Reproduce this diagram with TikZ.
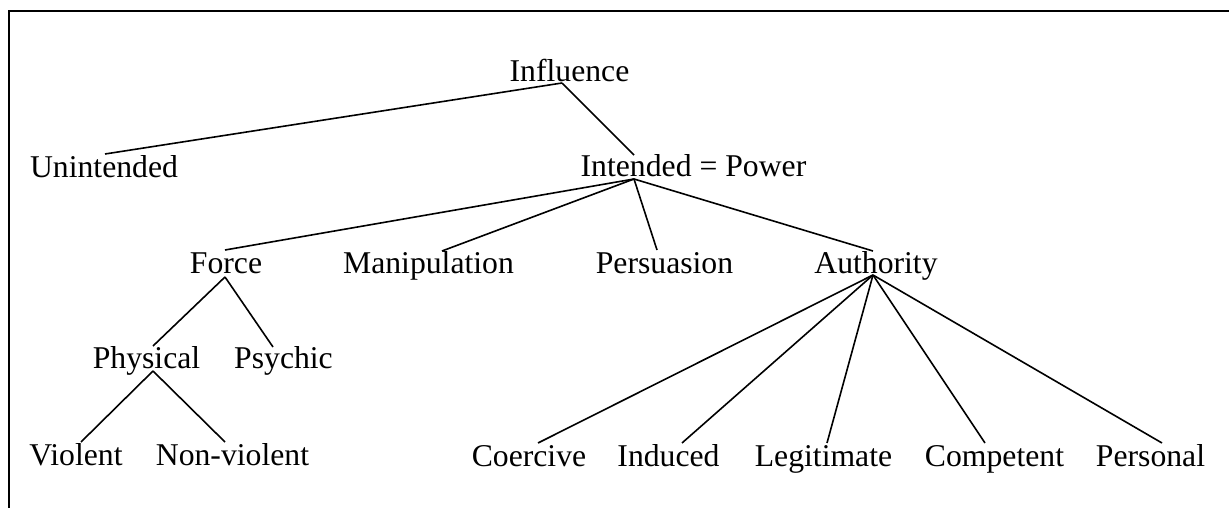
\documentclass[tikz,border=0pt]{standalone}
\usepackage{fontspec}
\setmainfont{Liberation Serif}
\begin{document}
\begin{tikzpicture}[x=1pt,y=-1pt,
  lbl/.style={inner sep=0pt,outer sep=0pt,anchor=base,font=\fontsize{31.7}{38}\selectfont},
  edge/.style={line width=1.6pt},
  frame/.style={line width=2.5pt,line join=miter}]
\useasboundingbox (0,0) rectangle (1229,508);
\coordinate (fb) at (9,508);
\coordinate (fc) at (9,11);
\coordinate (fr) at (1229,11);
\draw[frame] (fb) -- (fc) -- (fr);

\node[lbl] (inf) at (569.5,82) {Influence};
\node[lbl] (unint) at (104,177) {Unintended};
\node[lbl] (intd) at (693.5,176) {Intended = Power};
\node[lbl] (force) at (226,273) {Force};
\node[lbl] (manip) at (428.5,273) {Manipulation};
\node[lbl] (pers) at (664.5,273) {Persuasion};
\node[lbl] (auth) at (876,273) {Authority};
\node[lbl] (phys) at (146.5,368) {Physical};
\node[lbl] (psych) at (283.5,368) {Psychic};
\node[lbl] (viol) at (76,465) {Violent};
\node[lbl] (nonv) at (232.5,465) {Non-violent};
\node[lbl] (coer) at (529,466) {Coercive};
\node[lbl] (indu) at (668.5,466) {Induced};
\node[lbl] (legit) at (823.5,466) {Legitimate};
\node[lbl] (compet) at (994.5,466) {Competent};
\node[lbl] (perso) at (1150.5,466) {Personal};

% Influence
\draw[edge] ([shift={(-7.5,1)}]inf.base) -- ([shift={(1,-23)}]unint.base);
\draw[edge] ([shift={(-7.5,1)}]inf.base) -- ([shift={(-59.5,-21)}]intd.base);
% Intended = Power
\draw[edge] ([shift={(-59.5,3)}]intd.base) -- ([shift={(-1,-23)}]force.base);
\draw[edge] ([shift={(-59.5,3)}]intd.base) -- ([shift={(13.5,-22)}]manip.base);
\draw[edge] ([shift={(-59.5,3)}]intd.base) -- ([shift={(-7.5,-23)}]pers.base);
\draw[edge] ([shift={(-59.5,3)}]intd.base) -- ([shift={(-3,-22)}]auth.base);
% Force
\draw[edge] ([shift={(-1,4)}]force.base) -- ([shift={(6.5,-22)}]phys.base);
\draw[edge] ([shift={(-1,4)}]force.base) -- ([shift={(-10.5,-21)}]psych.base);
% Physical
\draw[edge] ([shift={(6.5,3)}]phys.base) -- ([shift={(5,-23)}]viol.base);
\draw[edge] ([shift={(6.5,3)}]phys.base) -- ([shift={(-7.5,-23)}]nonv.base);
% Authority
\draw[edge] ([shift={(-3,2)}]auth.base) -- ([shift={(9,-23)}]coer.base);
\draw[edge] ([shift={(-3,2)}]auth.base) -- ([shift={(13.5,-23)}]indu.base);
\draw[edge] ([shift={(-3,2)}]auth.base) -- ([shift={(3.5,-23)}]legit.base);
\draw[edge] ([shift={(-3,2)}]auth.base) -- ([shift={(-9.5,-23)}]compet.base);
\draw[edge] ([shift={(-3,2)}]auth.base) -- ([shift={(11.5,-23)}]perso.base);
\end{tikzpicture}
\end{document}
